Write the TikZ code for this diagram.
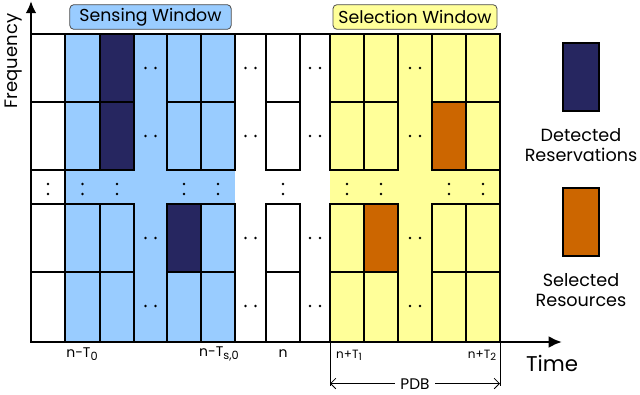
\documentclass[tikz,border=0pt]{standalone}
\usepackage{fontspec}
\setmainfont{Poppins}
\usetikzlibrary{arrows.meta}
\definecolor{sblue}{HTML}{99CCFF}
\definecolor{syellow}{HTML}{FFFF99}
\definecolor{snavy}{HTML}{262660}
\definecolor{sorange}{HTML}{CC6600}
\newcommand\lowsub[2]{\raisebox{-0.35ex}{\fontsize{#1}{#1}\selectfont #2}}
\begin{document}
\begin{tikzpicture}[x=0.75pt,y=-0.75pt,
  cellbox/.style={draw=black,line width=2.1pt},
  dotmark/.style={fill=black},
  winbox/.style={draw=black!70,line width=0.6pt,rounded corners=3pt,minimum width=#1,minimum height=18.5pt,inner sep=0pt,font=\fontsize{13}{14}\selectfont},
  legtext/.style={font=\fontsize{13.2}{15.5}\selectfont,align=center},
  ticklabel/.style={font=\fontsize{10.5}{12}\selectfont,inner sep=0pt},
  smalltick/.style={font=\fontsize{9}{11}\selectfont,inner sep=0pt}]
\useasboundingbox (0,0) rectangle (640,394);
% window backgrounds
\fill[sblue] (65,34) rectangle (235,342);
\fill[syellow] (330,34) rectangle (500,342);
% cells
\foreach \xa/\xb/\c in {31/65/white,65/100/sblue,100/134/sblue,167/201/sblue,201/235/sblue,266/300/white,330/364/syellow,364/398/syellow,432/466/syellow,466/500/syellow}{
  \foreach \ya/\yb in {34/102,102/170,204/272,272/342}{
    \draw[cellbox,fill=\c] (\xa,\ya) rectangle (\xb,\yb);
  }
}
\draw[cellbox,fill=white] (31,170) rectangle (65,204);
% highlighted cells
\draw[cellbox,fill=snavy] (100,34) rectangle (134,102);
\draw[cellbox,fill=snavy] (100,102) rectangle (134,170);
\draw[cellbox,fill=snavy] (167,204) rectangle (201,272);
\draw[cellbox,fill=sorange] (432,102) rectangle (466,170);
\draw[cellbox,fill=sorange] (364,204) rectangle (398,272);
% frame
\draw[line width=2.1pt] (31,34) -- (500,34) -- (500,342);
% horizontal dots in gap columns
\foreach \x in {150.5,250.5,315,415}{
  \foreach \y in {68,136,238,306}{
    \fill[dotmark] (\x-5,\y) circle (1.3);
    \fill[dotmark] (\x+5,\y) circle (1.3);
  }
}
% vertical dots in dot row
\foreach \x in {48,82.5,117,184,218,283,347,381,449,483}{
  \fill[dotmark] (\x,184) circle (1.3);
  \fill[dotmark] (\x,194) circle (1.3);
}
% axes
\coordinate (origin) at (31,342);
\coordinate (ftip) at (31,1);
\coordinate (ttip) at (562,342);
\draw[line width=2.1pt,-{Latex[length=9pt,width=8pt]}] (origin) -- (ftip);
\draw[line width=2.1pt,-{Latex[length=10pt,width=9pt]}] (origin) -- (ttip);
\node[rotate=90,font=\fontsize{13.5}{15}\selectfont,inner sep=0pt] (freq) at (13.5,61) {Frequency};
\node[font=\fontsize{16}{18}\selectfont,inner sep=0pt] (time) at (552,363) {Time};
% window labels
\node[winbox=121pt,fill=sblue] (sens) at (150.5,17) {Sensing Window};
\node[winbox=123pt,fill=syellow] (sel) at (415,17) {Selection Window};
% legend
\draw[cellbox,fill=snavy] (563,43) rectangle (599,111);
\node[legtext] (det) at (581,145) {Detected\\Reservations};
\draw[cellbox,fill=sorange] (563,188) rectangle (599,256);
\node[legtext] (selres) at (581,290) {Selected\\Resources};
% tick labels
\node[ticklabel] (t0) at (82,354) {n-T\lowsub{8.5}{0}};
\node[ticklabel] (ts0) at (219,354) {n-T\lowsub{8.5}{s,0}};
\node[ticklabel] (tn) at (283,354) {n};
\node[smalltick] (t1) at (349,355) {n+T\lowsub{7.5}{1}};
\node[smalltick] (t2) at (482,355) {n+T\lowsub{7.5}{2}};
% PDB
\coordinate (pa) at (330,342);
\coordinate (pb) at (500,342);
\coordinate (pa2) at (330,386);
\coordinate (pb2) at (500,386);
\coordinate (pl) at (330,383.5);
\coordinate (pr) at (500,383.5);
\draw[line width=0.6pt] (pa) -- (pa2);
\draw[line width=0.6pt] (pb) -- (pb2);
\draw[line width=0.6pt,{Straight Barb[length=4pt]}-{Straight Barb[length=4pt]}] (pl) -- (pr);
\node[fill=white,font=\fontsize{11.5}{12}\selectfont,inner xsep=4pt,inner ysep=0pt,anchor=base] (pdb) at (415,389) {PDB};
\end{tikzpicture}
\end{document}
